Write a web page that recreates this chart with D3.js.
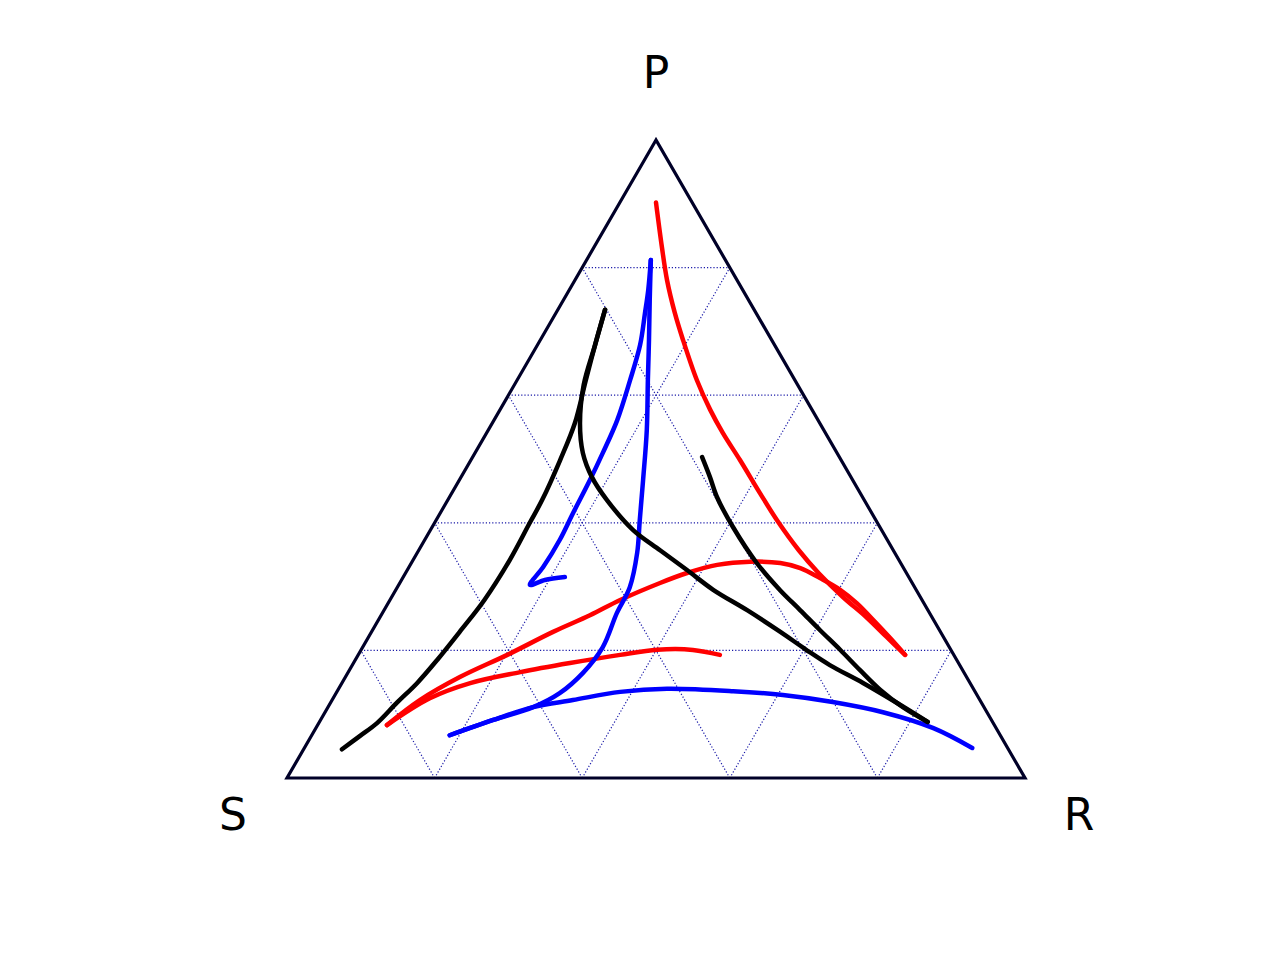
<!DOCTYPE html>
<html>
<head>
<meta charset="utf-8">
<script src="https://cdn.jsdelivr.net/npm/d3@7"></script>
<style>
  html, body { margin: 0; padding: 0; background: #fff; }
  svg { display: block; font-family: "DejaVu Sans", sans-serif; }
</style>
</head>
<body>
<svg id="chart" width="1280" height="960"></svg>
<script>
// Vertex labels
const vertexLabels = ["P", "S", "R"];
// Grid fractions
const gridTicks = [0.2, 0.4, 0.6, 0.8];

// Trajectories in ternary coordinates [P, S, R] (percent)
const red1 = [
  [90.1, 4.9, 4.9], [83.2, 7.6, 9.2], [78.1, 9.5, 12.5], [72.9, 11.0, 16.1],
  [68.7, 12.0, 19.3], [62.4, 13.3, 24.4], [57.7, 13.8, 28.5], [54.1, 13.9, 32.0],
  [49.8, 13.7, 36.5], [44.7, 13.6, 41.8], [40.4, 13.4, 46.2], [35.7, 12.8, 51.5],
  [32.1, 11.9, 56.0], [28.4, 10.5, 61.2], [25.2, 8.9, 65.8], [22.1, 7.7, 70.2],
  [19.3, 6.6, 74.1]
];
const red2 = [
  [8.3, 82.3, 9.4], [12.5, 74.4, 13.1], [14.9, 67.8, 17.4], [16.6, 60.1, 23.3],
  [18.0, 52.6, 29.3], [19.3, 45.2, 35.5], [20.1, 39.8, 40.1], [20.1, 35.0, 45.0],
  [19.3, 31.7, 49.0]
];
const red3 = [
  [8.3, 82.3, 9.4], [12.2, 75.9, 11.9], [15.8, 68.6, 15.5], [19.3, 60.5, 20.2],
  [22.9, 52.5, 24.6], [25.5, 46.2, 28.3], [27.9, 40.9, 31.2], [30.6, 34.2, 35.3],
  [32.1, 29.7, 38.1], [33.4, 25.0, 41.6], [33.9, 20.3, 45.8], [33.7, 16.3, 50.0],
  [32.9, 14.0, 53.1], [31.3, 12.1, 56.5], [29.5, 10.3, 60.2], [27.4, 9.1, 63.5],
  [24.5, 8.1, 67.5], [21.9, 7.3, 70.7], [19.3, 6.6, 74.1]
];
const blue1 = [
  [81.2, 10.1, 8.7], [74.9, 13.4, 11.7], [68.7, 16.6, 14.7], [62.4, 19.9, 17.7],
  [54.5, 24.0, 21.5], [46.7, 28.4, 24.9], [40.4, 32.0, 27.6], [35.3, 34.9, 29.8],
  [29.9, 38.6, 31.5], [25.9, 42.4, 31.8], [20.5, 46.9, 32.5], [16.5, 51.7, 31.9],
  [13.3, 56.4, 30.3], [11.1, 61.1, 27.8], [9.1, 67.5, 23.4], [6.7, 74.6, 18.7]
];
const blue2 = [
  [81.2, 10.1, 8.7], [76.5, 12.8, 10.7], [72.9, 15.1, 12.1], [67.9, 18.2, 13.9],
  [62.4, 22.3, 15.3], [56.1, 27.2, 16.7], [50.9, 31.7, 17.3], [46.7, 35.6, 17.7],
  [41.5, 40.5, 18.0], [37.3, 44.4, 18.3], [33.1, 48.8, 18.2], [30.3, 52.0, 17.8],
  [31.0, 49.5, 19.4], [31.5, 46.6, 21.9]
];
const blue3 = [
  [6.7, 74.6, 18.7], [9.1, 67.5, 23.4], [11.1, 61.1, 27.8], [12.2, 55.1, 32.6],
  [13.5, 48.1, 38.4], [14.0, 41.5, 44.5], [13.6, 32.7, 53.6], [13.0, 26.3, 60.7],
  [11.9, 20.1, 68.0], [10.3, 14.1, 75.6], [7.8, 8.5, 83.6], [4.7, 4.8, 90.5]
];
const black1 = [
  [73.4, 20.2, 6.4], [67.9, 24.3, 7.8], [62.4, 28.3, 9.3], [55.6, 33.2, 11.2],
  [49.8, 38.1, 12.1], [43.6, 43.7, 12.8], [40.0, 47.1, 12.9], [34.2, 52.7, 13.1],
  [27.9, 59.4, 12.8], [23.2, 64.8, 12.0], [18.5, 70.4, 11.1], [14.9, 74.9, 10.2],
  [11.8, 79.2, 9.0], [8.6, 83.5, 7.9], [6.6, 86.8, 6.6], [4.5, 90.3, 5.2]
];
const black2 = [
  [73.4, 20.2, 6.4], [67.9, 24.3, 7.8], [61.6, 29.0, 9.4], [55.6, 32.5, 11.9],
  [50.9, 34.4, 14.6], [47.2, 35.1, 17.7], [43.6, 34.9, 21.6], [38.9, 33.7, 27.5],
  [35.7, 31.6, 32.7], [32.6, 29.5, 37.9], [29.5, 27.5, 43.0], [26.3, 24.5, 49.2],
  [22.9, 21.7, 55.4], [20.1, 19.6, 60.3], [17.7, 17.6, 64.7], [14.9, 14.5, 70.6],
  [11.8, 11.5, 76.8], [8.8, 8.8, 82.5]
];
const black3 = [
  [50.3, 18.6, 31.1], [47.2, 19.1, 33.7], [44.0, 19.7, 36.2], [39.3, 19.9, 40.8],
  [33.7, 19.5, 46.8], [29.5, 18.5, 52.1], [26.3, 17.3, 56.3], [23.2, 16.2, 60.6],
  [20.1, 15.0, 64.9], [16.9, 13.9, 69.2], [13.8, 12.7, 73.5], [11.1, 11.0, 77.9],
  [8.8, 8.8, 82.5]
];

const seriesList = [
  { data: red1, color: "#ff0000" },
  { data: red3, color: "#ff0000" },
  { data: red2, color: "#ff0000" },
  { data: blue1, color: "#0000ff" },
  { data: blue2, color: "#0000ff" },
  { data: blue3, color: "#0000ff" },
  { data: black1, color: "#000000" },
  { data: black2, color: "#000000" },
  { data: black3, color: "#000000" }
];

const svg = d3.select("#chart");
// horizontal position scale (R + P/2), vertical scale (P)
const xs = d3.scaleLinear().domain([0, 1]).range([287, 1025]);
const ys = d3.scaleLinear().domain([0, 1]).range([778, 140]);
function proj(p, s, r) {
  const tot = p + s + r;
  p /= tot; r /= tot;
  return [xs(r + p / 2), ys(p)];
}

// grid lines
const gridG = svg.append("g");
gridTicks.forEach(t => {
  const lines = [
    [proj(t, 1 - t, 0), proj(t, 0, 1 - t)],
    [proj(0, 1 - t, t), proj(1 - t, 0, t)],
    [proj(0, t, 1 - t), proj(1 - t, t, 0)]
  ];
  lines.forEach(l => {
    gridG.append("line")
      .attr("x1", l[0][0]).attr("y1", l[0][1])
      .attr("x2", l[1][0]).attr("y2", l[1][1])
      .attr("stroke", "#1a1aa8")
      .attr("stroke-width", 1.2)
      .attr("stroke-dasharray", "1.2,2");
  });
});

// triangle
const verts = [proj(1, 0, 0), proj(0, 1, 0), proj(0, 0, 1)];
svg.append("path")
  .attr("d", "M" + verts.map(v => v.join(",")).join("L") + "Z")
  .attr("fill", "none")
  .attr("stroke", "#000028")
  .attr("stroke-width", 3.2);

// trajectories
const line = d3.line()
  .x(d => proj(d[0], d[1], d[2])[0])
  .y(d => proj(d[0], d[1], d[2])[1])
  .curve(d3.curveCatmullRom.alpha(0.5));
seriesList.forEach(sr => {
  svg.append("path")
    .attr("d", line(sr.data))
    .attr("fill", "none")
    .attr("stroke", sr.color)
    .attr("stroke-width", 4.5)
    .attr("stroke-linecap", "round")
    .attr("stroke-linejoin", "round");
});

// vertex labels
const labelPos = [
  [verts[0][0], verts[0][1] - 52],
  [verts[1][0] - 54, verts[1][1] + 52],
  [verts[2][0] + 54, verts[2][1] + 52]
];
vertexLabels.forEach((lab, i) => {
  svg.append("text")
    .attr("x", labelPos[i][0])
    .attr("y", labelPos[i][1])
    .attr("text-anchor", "middle")
    .attr("font-size", 44)
    .attr("fill", "#000")
    .text(lab);
});
</script>
</body>
</html>
